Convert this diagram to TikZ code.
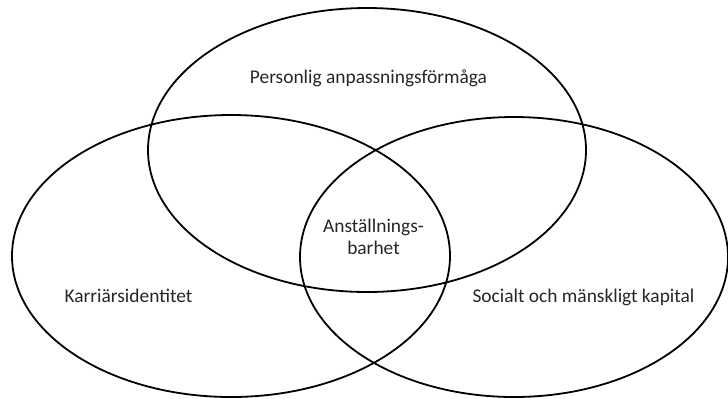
\documentclass[tikz,border=0pt]{standalone}
\usepackage{fontspec}
\setmainfont{Carlito}
\begin{document}
\begin{tikzpicture}[x=1bp,y=-1bp,
  ring/.style={draw=black,line width=1.8bp},
  lbl/.style={anchor=base,inner sep=0pt,font=\fontsize{19.4bp}{21.5bp}\selectfont,text=black!85}]
\useasboundingbox (0,0) rectangle (728,398);
\draw[ring] (367,150) ellipse [x radius=219, y radius=142];
\draw[ring] (231,256) ellipse [x radius=219, y radius=141];
\draw[ring] (514,257) ellipse [x radius=214, y radius=140];
\node[lbl] (top) at (368.5,83) {Personlig anpassningsförmåga};
\node[lbl] (left) at (128.5,302) {Karriärsidentitet};
\node[lbl] (right) at (583.5,302) {Socialt och mänskligt kapital};
\node[lbl] (mid1) at (373.5,232.7) {Anställnings-};
\node[lbl] (mid2) at (373.5,254) {barhet};
\end{tikzpicture}
\end{document}
